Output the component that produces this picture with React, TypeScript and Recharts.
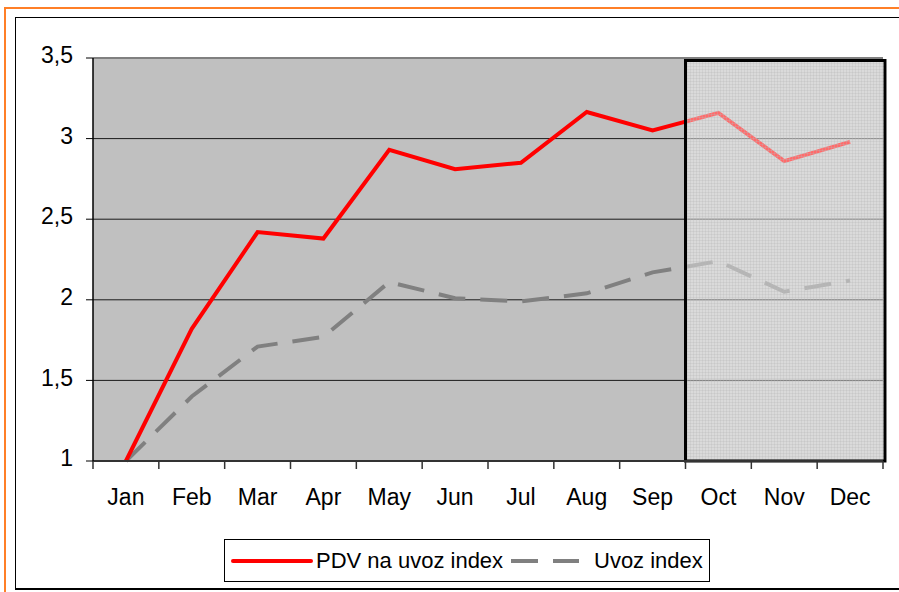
import { CartesianGrid, Line, LineChart, ReferenceArea, ReferenceLine, XAxis, YAxis } from 'recharts'

const MONTHS = ['Jan', 'Feb', 'Mar', 'Apr', 'May', 'Jun', 'Jul', 'Aug', 'Sep', 'Oct', 'Nov', 'Dec']
const PDV_INDEX = [1.0, 1.82, 2.42, 2.38, 2.93, 2.81, 2.85, 3.165, 3.05, 3.16, 2.86, 2.98]
const UVOZ_INDEX = [1.0, 1.4, 1.71, 1.77, 2.11, 2.01, 1.99, 2.04, 2.17, 2.24, 2.05, 2.12]
const Y_TICKS = [1, 1.5, 2, 2.5, 3, 3.5]
const BOUNDARY_TICKS = [0, 1, 2, 3, 4, 5, 6, 7, 8, 9, 10, 11, 12]

const data = MONTHS.map((m, i) => ({ x: i + 0.5, month: m, pdv: PDV_INDEX[i], uvoz: UVOZ_INDEX[i] }))

const FONT = '"Liberation Sans", Arial, sans-serif'
const tickStyle = { fill: '#000', fontSize: 23, fontFamily: FONT, dy: -3 }

// month label sits in the middle of each band, tick marks stay on the boundaries
function MonthTick(props: any) {
  const { x, y, index, width } = props
  if (index >= MONTHS.length) return null
  const band = (width || 790) / MONTHS.length
  return (
    <text x={x + band / 2} y={y + 34} textAnchor="middle" fill="#000" style={{ fontSize: 23, fontFamily: FONT }}>
      {MONTHS[index]}
    </text>
  )
}

function LegendBox() {
  return (
    <div
      style={{
        position: 'absolute',
        left: 224,
        top: 539,
        width: 484,
        height: 41,
        border: '1px solid #000',
        background: '#fff',
      }}
    >
      <svg width={484} height={41} style={{ position: 'absolute', left: 0, top: 0 }}>
        <line x1={8} y1={21} x2={86} y2={21} stroke="#ff0000" strokeWidth={4} strokeLinecap="round" />
        <text x={91} y={28} fill="#000" style={{ fontSize: 22, fontFamily: FONT }}>
          PDV na uvoz index
        </text>
        <line x1={286} y1={21} x2={354} y2={21} stroke="#808080" strokeWidth={4} strokeDasharray="27 15" />
        <text x={369} y={28} fill="#000" style={{ fontSize: 22, fontFamily: FONT }}>
          Uvoz index
        </text>
      </svg>
    </div>
  )
}

export default function App() {
  return (
    <div style={{ position: 'absolute', left: 0, top: 0, width: 899, height: 592, overflow: 'hidden', background: '#fff' }}>
      <div style={{ position: 'absolute', left: 4, top: 7, width: 920, height: 620, border: '2px solid #ff7f27' }} />
      <div style={{ position: 'absolute', left: 15, top: 17, width: 920, height: 570, border: '1px solid #000', borderBottomWidth: 2 }} />
      <div style={{ position: 'absolute', left: 0, top: 0 }}>
        <LineChart
          width={899}
          height={592}
          data={data}
          margin={{ top: 58, right: 16, left: 33, bottom: 83 }}
          style={{ fontFamily: FONT }}
        >
          <defs>
            <pattern id="hatch" width={3} height={3} patternUnits="userSpaceOnUse">
              <rect x={0} y={0} width={3} height={3} fill="#ffffff" fillOpacity={0.42} />
              <rect x={0} y={0} width={1} height={3} fill="#b8b8b8" fillOpacity={0.3} />
              <rect x={0} y={0} width={3} height={1} fill="#b8b8b8" fillOpacity={0.3} />
            </pattern>
          </defs>
          <CartesianGrid vertical={false} stroke="#1a1a1a" fill="#c0c0c0" fillOpacity={1} />
          <XAxis
            type="number"
            dataKey="x"
            domain={[0, 12]}
            ticks={BOUNDARY_TICKS}
            interval={0}
            tick={<MonthTick />}
            tickSize={8}
            height={48}
            axisLine={{ stroke: '#333', strokeWidth: 2 }}
            tickLine={{ stroke: '#333', strokeWidth: 1.5 }}
          />
          <YAxis
            type="number"
            domain={[1, 3.5]}
            ticks={Y_TICKS}
            width={60}
            tickSize={7}
            tickMargin={13}
            tick={tickStyle}
            tickFormatter={(v: number) => String(v).replace('.', ',')}
            axisLine={{ stroke: '#000', strokeWidth: 1.5 }}
            tickLine={{ stroke: '#000' }}
          />
          <ReferenceLine y={3.5} stroke="#808080" strokeWidth={2} />
          <Line
            type="linear"
            dataKey="uvoz"
            stroke="#808080"
            strokeWidth={4}
            strokeDasharray="27 15"
            dot={false}
            isAnimationActive={false}
          />
          <Line
            type="linear"
            dataKey="pdv"
            stroke="#ff0000"
            strokeWidth={4}
            dot={false}
            isAnimationActive={false}
          />
          <ReferenceArea
            x1={9}
            x2={12.03}
            y1={1}
            y2={3.485}
            ifOverflow="visible"
            fill="url(#hatch)"
            fillOpacity={1}
            stroke="#000"
            strokeWidth={3}
            zIndex={450}
          />
        </LineChart>
      </div>
      <LegendBox />
    </div>
  )
}
